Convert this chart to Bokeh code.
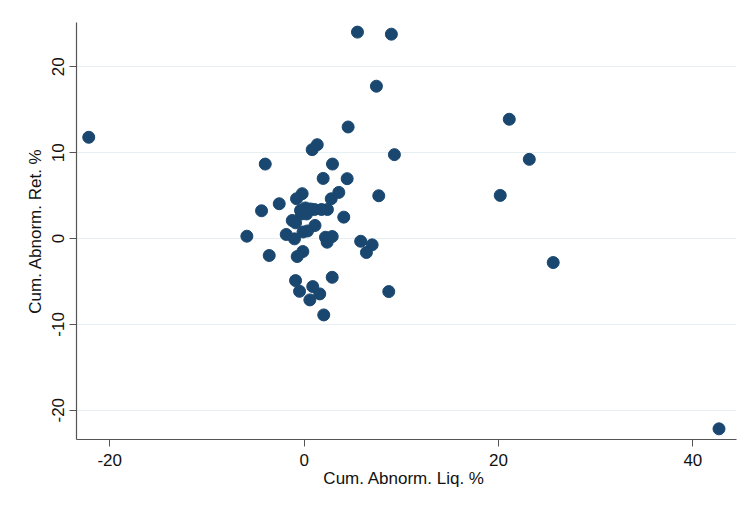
from bokeh.plotting import figure
from bokeh.models import Range1d, FixedTicker, ColumnDataSource, CustomJSTickFormatter
from bokeh.embed import file_html
from bokeh.resources import INLINE

# Cumulative abnormal liquidity (%) and cumulative abnormal return (%)
liq = [5.49, 8.98, 7.44, -22.16, 21.11, 23.17, 20.18, 25.63, 42.69, 9.29,
       7.68, 8.71, 4.53, 1.35, 0.83, -4.00, 2.92, 1.96, 4.43, 3.57,
       2.79, -0.20, -0.78, -2.56, -4.38, -0.37, 0.14, 0.66, 1.07, 0.25,
       -0.27, 1.79, 2.40, -1.22, -0.88, 4.08, 1.12, -0.11, 0.35, -5.89,
       -1.84, -0.99, 2.20, 2.89, 2.37, 5.82, 7.00, 6.41, -3.59, -0.13,
       -0.71, 2.89, -0.88, 0.89, -0.47, 1.61, 0.59, 2.02]
ret = [24.04, 23.80, 17.74, 11.79, 13.89, 9.22, 5.02, -2.80, -22.17, 9.77,
       4.98, -6.18, 12.99, 10.93, 10.35, 8.67, 8.67, 7.00, 6.97, 5.37,
       4.63, 5.22, 4.63, 4.05, 3.23, 3.27, 3.56, 3.44, 3.38, 2.86,
       2.86, 3.38, 3.38, 2.10, 1.83, 2.49, 1.52, 0.76, 0.88, 0.27,
       0.47, -0.04, 0.15, 0.23, -0.43, -0.32, -0.74, -1.63, -1.98, -1.52,
       -2.10, -4.52, -4.90, -5.60, -6.15, -6.45, -7.15, -8.90]

x_ticks = [-20, 0, 20, 40]
y_ticks = [-20, -10, 0, 10, 20]
x_title = "Cum. Abnorm. Liq.  %"
y_title = "Cum. Abnorm. Ret. %"

src = ColumnDataSource(dict(x=liq, y=ret))

p = figure(width=742, height=498, output_backend="svg", toolbar_location=None,
           x_range=Range1d(-23.42, 44.49), y_range=Range1d(-23.41, 25.16),
           min_border_left=76, min_border_right=6, min_border_top=22, min_border_bottom=59)
p.outline_line_color = None
p.background_fill_color = "white"
p.border_fill_color = "white"

p.scatter("x", "y", source=src, size=12, fill_color="#1a476f", line_color="#1a476f")

font = "Liberation Sans"
fmt = CustomJSTickFormatter(code="return tick.toString();")
for ax in (p.xaxis[0], p.yaxis[0]):
    ax.axis_line_color = "#555555"
    ax.axis_line_width = 1.2
    ax.major_tick_line_color = "#555555"
    ax.major_tick_out = 7
    ax.major_tick_in = 0
    ax.minor_tick_line_color = None
    ax.major_label_text_font = font
    ax.major_label_text_font_size = "17px"
    ax.major_label_text_color = "#111111"
    ax.axis_label_text_font = font
    ax.axis_label_text_font_size = "17px"
    ax.axis_label_text_font_style = "normal"
    ax.axis_label_text_color = "#111111"
    ax.formatter = fmt

p.xaxis[0].ticker = FixedTicker(ticks=x_ticks)
p.yaxis[0].ticker = FixedTicker(ticks=y_ticks)
p.xaxis[0].axis_label = x_title
p.yaxis[0].axis_label = y_title
p.xaxis[0].major_label_standoff = 7
p.xaxis[0].axis_label_standoff = 0
p.yaxis[0].major_label_standoff = 5
p.yaxis[0].axis_label_standoff = 5
p.yaxis[0].major_label_orientation = "vertical"

p.xgrid.grid_line_color = None
p.ygrid.ticker = FixedTicker(ticks=y_ticks)
p.ygrid.grid_line_color = "#e6eff2"
p.ygrid.grid_line_width = 1.2

open("out.html", "w").write(file_html(p, INLINE))
